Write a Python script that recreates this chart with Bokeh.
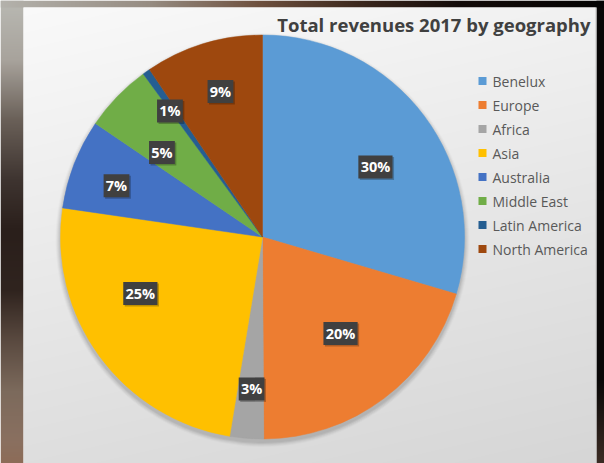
import numpy as np
from bokeh.plotting import figure
from bokeh.models import ColumnDataSource
from bokeh.core.properties import value
from bokeh.embed import file_html
from bokeh.resources import INLINE

# ---- data ----
regions = ["Benelux", "Europe", "Africa", "Asia", "Australia",
           "Middle East", "Latin America", "North America"]
shares = [29.55, 20.35, 2.7, 24.7, 7.2, 5.45, 0.6, 9.45]
colors = ["#5B9BD5", "#ED7D31", "#A5A5A5", "#FFC000", "#4472C4",
          "#70AD47", "#255E91", "#9E480E"]
title_text = "Total revenues 2017 by geography"

# ---- layout (pixels inside the figure) ----
W, H = 604, 463
CX, CY, R = 262, 226.5, 202
# best-fit label placement: (radius fraction, angle shift in degrees)
label_place = [(0.658, 5.0), (0.614, -2.0), (0.754, -0.4), (0.666, 11.4),
               (0.766, -1.9), (0.65, -4.0), (0.774, -1.2), (0.75, 0.9)]

p = figure(width=W, height=H, x_range=(0, W), y_range=(0, H),
           output_backend="svg", toolbar_location=None, min_border=0)
p.axis.visible = False
p.grid.grid_line_color = None
p.outline_line_color = None
p.background_fill_color = "#ffffff"
p.border_fill_color = "#ffffff"

# ---- background: photo frame + light gradient panel ----
rows = np.arange(H)
page_y = H - rows - 0.5

# left strip (vertical gradient)
stops_y = np.array([0, 60, 120, 180, 230, 290, 340, 390, 440, 463])
stops_c = np.array([[185, 185, 179], [168, 163, 156], [106, 96, 88],
                    [62, 52, 48], [42, 31, 27], [48, 36, 31],
                    [90, 74, 64], [124, 106, 92], [138, 112, 96],
                    [141, 108, 88]], dtype=float)
strip = np.zeros((H, 1), dtype=np.uint32)
sv = strip.view(dtype=np.uint8).reshape((H, 1, 4))
for k in range(3):
    sv[:, 0, k] = np.interp(page_y, stops_y, stops_c[:, k]).astype(np.uint8)
sv[:, 0, 3] = 255
p.image_rgba(image=[strip], x=0, y=0, dw=23, dh=H)

# right strip (dark)
rs_y = np.array([0, 380, 463])
rs_c = np.array([[8, 6, 6], [10, 8, 8], [60, 44, 36]], dtype=float)
rstrip = np.zeros((H, 1), dtype=np.uint32)
rv = rstrip.view(dtype=np.uint8).reshape((H, 1, 4))
for k in range(3):
    rv[:, 0, k] = np.interp(page_y, rs_y, rs_c[:, k]).astype(np.uint8)
rv[:, 0, 3] = 255
p.image_rgba(image=[rstrip], x=596, y=0, dw=8, dh=H)

# top strip (horizontal gradient)
ts_x = np.array([0, 150, 260, 360, 460, 604])
ts_c = np.array([[180, 178, 172], [150, 140, 130], [110, 80, 62],
                 [60, 40, 30], [20, 12, 10], [5, 4, 4]], dtype=float)
cols = np.arange(W) + 0.5
tstrip = np.zeros((1, W), dtype=np.uint32)
tv = tstrip.view(dtype=np.uint8).reshape((1, W, 4))
for k in range(3):
    tv[0, :, k] = np.interp(cols, ts_x, ts_c[:, k]).astype(np.uint8)
tv[0, :, 3] = 255
p.image_rgba(image=[tstrip], x=0, y=H - 7, dw=W, dh=7)

# panel
PX0, PX1 = 23, 595
PW = PX1 - PX0
PH = H - 7
panel = np.zeros((PH, PW), dtype=np.uint32)
pv = panel.view(dtype=np.uint8).reshape((PH, PW, 4))
ty = ((PH - np.arange(PH) - 0.5 + 7) / 463.0)[:, None]
tx = (np.arange(PW) / PW)[None, :]
g = (250 - 28 * ty - 8 * tx).clip(0, 255).astype(np.uint8)
for k in range(3):
    pv[:, :, k] = g
pv[:, :, 3] = 255
p.image_rgba(image=[panel], x=PX0, y=0, dw=PW, dh=PH)
p.quad(left=[595], right=[596], bottom=[0], top=[PH], fill_color="#bdbdbd",
       line_color=None)

# ---- pie shadow ----
for i, a in enumerate([0.05, 0.05, 0.04, 0.03, 0.02]):
    p.circle(x=[CX], y=[CY - 3], radius=R + 1 + i, fill_color="#000000",
             fill_alpha=a, line_color=None)

# ---- pie ----
fr = np.array(shares) / sum(shares)
cum = np.concatenate([[0], np.cumsum(fr)])
start = np.pi / 2 - 2 * np.pi * cum[:-1]
end = np.pi / 2 - 2 * np.pi * cum[1:]
src = ColumnDataSource(dict(start=start, end=end, color=colors))
p.wedge(x=CX, y=CY, radius=R, start_angle="start", end_angle="end",
        direction="clock", fill_color="color", line_color="color",
        line_width=0.5, source=src)

# ---- data labels ----
labels = [f"{round(s):.0f}%" for s in shares]
mid = (cum[:-1] + cum[1:]) / 2 * 360
lx, ly, bw = [], [], []
for m, (rf, sh), lab in zip(mid, label_place, labels):
    th = np.radians(m + sh)
    lx.append(CX + rf * R * np.sin(th))
    ly.append(CY + rf * R * np.cos(th))
    bw.append(9 + 8.4 * len(lab))
lsrc = ColumnDataSource(dict(x=lx, y=ly, w=bw, t=labels,
                             xs=[v + 1.5 for v in lx],
                             ys=[v - 1.5 for v in ly]))
p.rect(x="xs", y="ys", width="w", height=23, source=lsrc,
       fill_color="#000000", fill_alpha=0.25, line_color=None)
p.rect(x="x", y="y", width="w", height=23, source=lsrc,
       fill_color="#404040", line_color=None)
p.text(x="x", y="y", text="t", source=lsrc, text_color="#ffffff",
       text_font=value("Open Sans"), text_font_style="bold",
       text_font_size="14.5px", text_align="center", text_baseline="middle")

# ---- title ----
p.text(x=[590], y=[439], text=[title_text], text_color="#404040",
       text_font=value("Open Sans"), text_font_style="bold",
       text_font_size="18.5px", text_align="right", text_baseline="middle")

# ---- legend ----
ys = [382.5 - 24 * i for i in range(len(regions))]
p.rect(x=[482] * len(regions), y=ys, width=8, height=8,
       fill_color=colors, line_color=None)
p.text(x=[492] * len(regions), y=ys, text=regions, text_color="#595959",
       text_font=value("Open Sans"), text_font_size="14px",
       text_align="left", text_baseline="middle")

open("out.html", "w").write(file_html(p, INLINE))
